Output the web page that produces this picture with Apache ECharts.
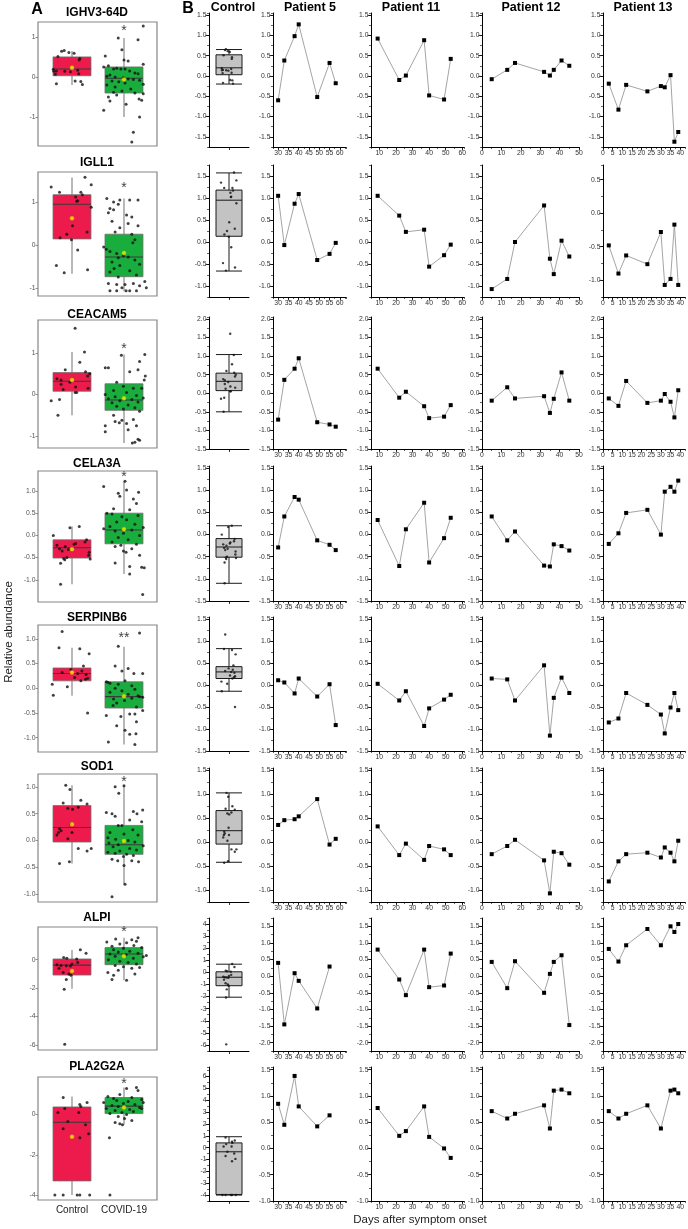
<!DOCTYPE html>
<html>
<head>
<meta charset="utf-8">
<script src="https://cdn.jsdelivr.net/npm/echarts@6.0.0/dist/echarts.min.js"></script>
<style>
  html, body { margin: 0; padding: 0; background: #fff; }
  #chart { width: 688px; height: 1229px; }
</style>
</head>
<body>
<div id="chart"></div>
<script>
// ---- data ----
const genes = ['IGHV3-64D', 'IGLL1', 'CEACAM5', 'CELA3A', 'SERPINB6', 'SOD1', 'ALPI', 'PLA2G2A'];
const stars = ['*', '*', '*', '*', '**', '*', '*', '*'];
const groups = ['Control', 'COVID-19'];
const panelTitles = ['Control', 'Patient 5', 'Patient 11', 'Patient 12', 'Patient 13'];

// panel A boxes: [min, q1, median, q3, max]
const ctrlBox = [
  [-0.2, 0.03, 0.2, 0.5, 0.65], [-0.67, 0.14, 0.95, 1.17, 1.57], [-0.5, 0.08, 0.32, 0.53, 1.03],
  [-1.1, -0.51, -0.28, -0.1, 0.2], [-0.15, 0.15, 0.3, 0.41, 0.82], [-0.43, -0.03, 0.24, 0.65, 1.03],
  [-2.05, -1.08, -0.38, 0.05, 0.68], [-4.0, -3.3, -0.38, 0.38, 0.9]
];
const covidBox = [
  [-1.0, -0.4, -0.03, 0.25, 0.97], [-1.08, -0.74, -0.28, 0.25, 1.08], [-1.17, -0.38, -0.13, 0.26, 0.97],
  [-0.87, -0.19, 0.12, 0.5, 1.22], [-1.14, -0.4, -0.17, 0.13, 0.84], [-0.82, -0.26, -0.08, 0.28, 1.02],
  [-1.45, -0.35, 0.4, 0.85, 1.55], [-0.5, 0.05, 0.42, 0.85, 1.35]
];
const ctrlMean = [0.23, 0.62, 0.35, -0.31, 0.32, 0.3, -0.8, -1.1];
const covidMean = [-0.06, -0.19, -0.09, 0.14, -0.16, -0.01, 0.25, 0.35];
// panel B control boxes (Origin quartiles)
const ctrlBoxB = [
  [-0.2, 0.03, 0.2, 0.52, 0.65], [-0.66, 0.13, 0.95, 1.18, 1.57], [-0.5, 0.07, 0.32, 0.54, 1.04],
  [-1.1, -0.51, -0.28, -0.09, 0.2], [-0.14, 0.15, 0.3, 0.42, 0.83], [-0.42, -0.04, 0.24, 0.66, 1.03],
  [-2.05, -1.1, -0.4, 0.05, 0.68], [-4.0, -3.95, -0.35, 0.4, 0.92]
];

// jittered points [x, value]; x: 1 = Control, 2 = COVID-19
const ctrlPts = [
  [[0.8,0.64],[0.85,0.66],[0.94,0.61],[1.04,0.59],[1.14,0.42],[1.15,0.46],[0.73,0.51],[0.64,0.19],[0.65,0.14],[0.7,0.15],[0.86,0.14],[0.68,0.07],[1.13,0.08],[1.11,0.17],[0.7,-0.17],[1.06,-0.1],[1.17,-0.11],[1.2,-0.19],[0.97,0.13]],
  [[0.6,1.35],[0.76,1.23],[1.17,1.23],[1.2,1.17],[1.25,1.58],[1.37,1.4],[1.07,1.12],[1.09,1.02],[1.11,1.03],[1.37,0.88],[1.01,0.45],[1.29,0.3],[0.9,0.25],[0.77,0.17],[0.99,0.12],[1.11,-0.12],[0.7,-0.48],[0.85,-0.65],[1.3,-0.58]],
  [[1.06,1.6],[1.24,1.03],[1.15,0.78],[0.87,0.6],[1.26,0.55],[1.34,0.5],[1.3,0.45],[0.71,0.38],[0.79,0.35],[0.96,0.3],[0.79,0.25],[1.07,0.18],[0.83,0.12],[1.31,0.15],[1.06,0.05],[1.09,0.05],[0.76,-0.12],[0.6,-0.15],[0.73,-0.5]],
  [[1.14,0.2],[0.96,0.17],[0.64,0.0],[1.28,-0.1],[1.25,-0.15],[1.07,-0.18],[1.04,-0.2],[0.71,-0.22],[0.87,-0.25],[0.76,-0.3],[0.93,-0.32],[0.81,-0.35],[1.33,-0.38],[1.32,-0.45],[0.9,-0.5],[0.84,-0.52],[1.35,-0.53],[0.86,-0.55],[0.78,-0.63],[0.78,-1.1]],
  [[0.81,1.15],[0.75,0.82],[1.15,0.8],[1.33,0.7],[1.22,0.45],[0.98,0.38],[1.19,0.35],[0.81,0.32],[1.11,0.3],[1.27,0.28],[1.05,0.22],[1.3,0.2],[1.26,0.18],[1.17,0.15],[0.62,0.08],[0.91,0.03],[0.64,-0.14],[1.3,-0.5]],
  [[0.88,1.03],[0.96,0.95],[1.17,0.75],[0.83,0.7],[1.29,0.68],[1.12,0.62],[0.92,0.6],[1.01,0.58],[0.98,0.3],[0.76,0.22],[0.79,0.18],[0.74,0.15],[1.0,0.15],[0.71,0.1],[0.92,0.03],[1.12,-0.15],[1.37,-0.15],[1.29,-0.2],[0.95,-0.4],[0.76,-0.43]],
  [[1.16,0.7],[1.27,0.45],[0.84,0.15],[0.9,0.1],[1.09,0.05],[1.0,-0.3],[0.71,-0.35],[0.79,-0.4],[0.89,-0.42],[0.97,-0.45],[0.75,-0.6],[0.83,-0.9],[0.94,-1.0],[0.98,-1.1],[0.89,-1.4],[0.85,-2.08],[0.86,-5.95],[1.11,-0.2]],
  [[0.83,0.85],[1.29,0.6],[1.15,0.5],[1.17,0.4],[0.86,0.3],[0.73,0.1],[0.92,-0.35],[1.26,-0.5],[0.83,-0.7],[1.32,-0.95],[1.15,-1.15],[0.67,-4.0],[0.83,-4.0],[1.1,-4.0],[1.15,-4.0],[1.34,-4.0],[1.13,0.1]]
];
const covidPts = [
  [[2.37,1.27],[1.89,0.97],[2.27,0.93],[1.96,0.68],[1.64,0.52],[2.0,0.42],[2.08,0.4],[2.37,0.32],[1.61,0.25],[1.7,0.28],[1.8,0.2],[1.86,0.22],[1.94,0.2],[2.02,0.2],[2.11,0.15],[2.21,0.1],[2.27,0.08],[1.73,0.05],[1.67,0.02],[1.83,0.0],[1.99,-0.02],[2.08,-0.05],[2.18,-0.06],[2.3,-0.08],[1.77,-0.1],[1.9,-0.12],[2.02,-0.15],[2.37,-0.18],[1.67,-0.2],[1.83,-0.25],[2.13,-0.3],[1.96,-0.35],[1.8,-0.38],[2.21,-0.4],[2.37,-0.42],[1.86,-0.45],[1.7,-0.5],[2.29,-0.55],[2.34,-0.58],[1.73,-0.6],[2.04,-0.68],[1.61,-0.83],[2.3,-1.0],[2.18,-1.38],[2.15,-1.62]],
  [[1.67,1.08],[1.92,1.05],[2.11,1.05],[2.27,1.05],[1.8,1.0],[1.89,0.95],[1.73,0.85],[1.8,0.82],[1.7,0.75],[2.05,0.7],[2.15,0.65],[1.77,0.55],[2.08,0.5],[2.27,0.45],[1.92,0.4],[1.83,0.3],[2.15,0.25],[2.21,0.12],[2.17,0.05],[1.61,-0.05],[1.66,-0.1],[1.73,-0.15],[1.86,-0.2],[1.99,-0.25],[2.08,-0.28],[1.89,-0.3],[2.21,-0.35],[1.77,-0.4],[2.3,-0.45],[1.92,-0.48],[1.81,-0.55],[2.11,-0.6],[1.73,-0.63],[2.24,-0.7],[1.89,-0.75],[2.4,-0.85],[1.7,-0.9],[1.86,-0.92],[2.02,-0.92],[2.18,-0.9],[2.3,-0.95],[1.96,-1.0],[1.73,-1.07],[1.86,-1.07],[2.04,-1.07],[2.11,-1.07],[2.24,-1.07],[2.43,-1.0]],
  [[2.4,0.97],[1.95,0.95],[2.3,0.8],[1.64,0.65],[1.7,0.65],[2.27,0.6],[2.11,0.55],[2.41,0.45],[2.39,0.35],[1.86,0.3],[1.99,0.2],[2.18,0.15],[2.34,0.15],[1.8,0.1],[2.05,0.05],[1.64,0.0],[2.24,-0.02],[1.83,-0.05],[2.37,-0.08],[1.7,-0.1],[2.15,-0.12],[1.92,-0.15],[2.27,-0.18],[1.77,-0.2],[2.08,-0.25],[1.86,-0.28],[2.21,-0.32],[1.99,-0.35],[2.3,-0.4],[1.8,-0.5],[2.18,-0.6],[1.96,-0.62],[1.83,-0.65],[1.91,-0.68],[2.05,-0.7],[1.64,-0.75],[2.08,-0.85],[1.64,-0.9],[2.24,-0.75],[2.27,-1.08],[2.3,-1.1],[2.16,-1.17],[2.21,-1.15]],
  [[2.02,1.22],[1.61,1.1],[2.05,1.02],[2.28,0.97],[1.89,0.95],[1.92,0.88],[2.18,0.82],[2.24,0.72],[1.8,0.6],[2.11,0.58],[1.67,0.5],[1.77,0.48],[2.27,0.45],[1.96,0.42],[2.05,0.35],[1.86,0.3],[2.21,0.25],[1.73,0.2],[2.37,0.18],[1.61,0.15],[2.15,0.12],[1.83,0.1],[1.99,0.05],[2.3,0.0],[1.89,-0.05],[2.08,-0.1],[1.77,-0.15],[2.24,-0.2],[1.94,-0.22],[1.83,-0.25],[2.15,-0.3],[1.99,-0.35],[2.04,-0.38],[2.3,-0.45],[1.83,-0.62],[2.11,-0.7],[2.34,-0.72],[2.39,-0.73],[2.11,-0.87],[2.36,-1.33]],
  [[2.3,1.12],[1.89,0.85],[1.83,0.45],[2.08,0.4],[1.96,0.35],[2.19,0.3],[2.36,0.3],[2.02,0.15],[1.66,0.13],[1.69,0.12],[1.73,0.1],[1.89,0.08],[2.15,0.05],[1.83,0.0],[2.21,-0.02],[1.96,-0.05],[1.73,-0.08],[2.08,-0.12],[2.27,-0.15],[2.36,-0.18],[2.3,-0.17],[2.15,-0.2],[1.8,-0.22],[2.01,-0.25],[1.86,-0.3],[1.79,-0.35],[2.24,-0.38],[2.36,-0.45],[1.66,-0.55],[1.94,-0.57],[2.11,-0.52],[2.21,-0.52],[2.24,-0.68],[1.86,-0.76],[2.02,-0.85],[2.11,-0.93],[2.23,-0.92],[1.7,-1.09],[2.21,-1.14]],
  [[2.0,1.02],[1.83,1.0],[1.9,0.88],[2.36,0.57],[2.18,0.54],[1.66,0.52],[2.25,0.5],[1.77,0.5],[1.83,0.45],[2.11,0.38],[2.34,0.35],[1.89,0.28],[1.96,0.28],[2.17,0.2],[1.73,0.15],[2.0,0.12],[2.27,0.1],[1.69,0.05],[1.84,0.02],[2.08,0.0],[2.21,-0.03],[1.71,-0.05],[1.89,-0.08],[2.37,-0.1],[1.79,-0.12],[2.11,-0.15],[2.24,-0.18],[1.92,-0.2],[1.69,-0.22],[1.83,-0.24],[2.05,-0.26],[2.18,-0.28],[1.99,-0.3],[1.77,-0.35],[1.88,-0.38],[2.28,-0.4],[2.15,-0.38],[2.0,-0.47],[2.02,-0.82],[1.77,-1.05]],
  [[2.27,1.55],[1.84,1.45],[2.15,1.4],[2.24,1.3],[1.67,1.25],[2.05,1.2],[1.92,1.1],[2.19,1.0],[1.77,0.95],[2.34,0.85],[1.99,0.8],[1.8,0.7],[2.11,0.6],[1.89,0.55],[2.27,0.45],[1.73,0.4],[2.04,0.35],[1.83,0.25],[2.37,0.2],[2.18,0.1],[1.7,0.0],[1.92,-0.1],[2.08,-0.2],[2.24,-0.3],[1.83,-0.4],[1.99,-0.5],[2.3,-0.55],[2.15,-0.6],[1.69,-0.9],[2.21,-1.0],[1.8,-1.1],[1.77,-1.4],[2.05,-1.45],[1.89,-0.75],[2.43,0.3]],
  [[2.24,1.35],[2.05,1.3],[2.27,1.2],[1.92,1.0],[1.69,0.9],[2.15,0.85],[1.8,0.8],[2.34,0.75],[1.86,0.7],[2.08,0.65],[1.61,0.6],[1.99,0.55],[2.21,0.5],[1.77,0.45],[1.89,0.4],[2.3,0.35],[1.66,0.3],[2.11,0.25],[1.83,0.2],[2.18,0.15],[1.96,0.1],[1.73,0.05],[2.05,0.0],[1.89,-0.1],[2.01,-0.2],[2.15,-0.3],[1.83,-0.4],[1.92,-0.45],[1.97,-0.5],[1.72,-1.15],[1.73,-4.0],[2.34,0.3],[2.37,0.6]]
];

// panel B time courses (days after symptom onset)
const p5Days = [30, 33, 38, 40, 49, 55, 58];
const p5Vals = [
  [-0.6, 0.38, 0.98, 1.27, -0.52, 0.32, -0.18],
  [1.05, -0.07, 0.87, 1.09, -0.41, -0.27, -0.02],
  [-0.71, 0.36, 0.66, 0.94, -0.78, -0.84, -0.9],
  [-0.29, 0.41, 0.85, 0.79, -0.13, -0.23, -0.35],
  [0.11, 0.06, -0.19, 0.15, -0.26, 0.02, -0.91],
  [0.36, 0.46, 0.48, 0.54, 0.9, -0.05, 0.07],
  [0.4, -1.45, 0.09, -0.14, -0.97, 0.29, null],
  [0.85, 0.45, 1.38, 0.8, 0.42, 0.63, null]
];
const p11Days = [9, 22, 26, 37, 40, 49, 53];
const p11Vals = [
  [0.92, -0.1, 0.01, 0.88, -0.48, -0.58, 0.42],
  [1.05, 0.6, 0.23, 0.28, -0.56, -0.3, -0.06],
  [0.66, -0.12, 0.04, -0.35, -0.67, -0.63, -0.32],
  [0.33, -0.71, 0.12, 0.72, -0.63, -0.08, 0.38],
  [0.03, -0.35, -0.14, -0.93, -0.53, -0.33, -0.22],
  [0.33, -0.27, -0.03, -0.37, -0.08, -0.15, -0.27],
  [0.8, -0.1, -0.57, 0.8, -0.33, -0.28, 0.68],
  [0.77, 0.24, 0.33, 0.8, 0.22, 0.0, -0.18]
];
const p12Days = [5, 13, 17, 32, 35, 37, 41, 45];
const p12Vals = [
  [-0.08, 0.15, 0.32, 0.1, 0.01, 0.15, 0.38, 0.25],
  [-1.07, -0.84, 0.0, 0.83, -0.38, -0.73, 0.03, -0.33],
  [-0.2, 0.16, -0.14, -0.08, -0.53, -0.15, 0.56, -0.2],
  [0.41, -0.13, 0.07, -0.7, -0.72, -0.22, -0.26, -0.36],
  [0.15, 0.13, -0.35, 0.45, -1.15, -0.29, 0.17, -0.18],
  [-0.25, -0.08, 0.05, -0.38, -1.07, -0.2, -0.23, -0.47],
  [0.43, -0.36, 0.45, -0.5, 0.07, 0.43, 0.63, -1.47],
  [0.71, 0.57, 0.66, 0.82, 0.38, 1.1, 1.12, 1.05]
];
const p13Days = [3, 8, 12, 23, 30, 32, 35, 37, 39];
const p13Vals = [
  [-0.19, -0.83, -0.22, -0.38, -0.25, -0.28, 0.02, -1.62, -1.38],
  [-0.48, -0.9, -0.63, -0.76, -0.28, -1.07, -0.98, -0.17, -1.07],
  [-0.14, -0.34, 0.33, -0.26, -0.2, -0.02, -0.23, -0.65, 0.08],
  [-0.21, 0.03, 0.49, 0.56, 0.0, 0.97, 1.08, 0.97, 1.22],
  [-0.85, -0.76, -0.18, -0.45, -0.67, -1.1, -0.51, -0.18, -0.57],
  [-0.82, -0.4, -0.25, -0.22, -0.32, -0.11, -0.22, -0.4, 0.03],
  [0.82, 0.44, 0.93, 1.42, 0.93, null, 1.5, 1.33, 1.57],
  [0.71, 0.57, 0.66, 0.82, 0.38, null, 1.1, 1.12, 1.05]
];

// axis ranges and tick labels
const aYRange = [[-1.72, 1.37], [-1.19, 1.7], [-1.29, 1.8], [-1.5, 1.45], [-1.29, 1.28], [-1.15, 1.24], [-6.35, 2.3], [-4.25, 1.87]];
const aYTicks = [[-1, 0, 1], [-1, 0, 1], [-1, 0, 1], [-1, -0.5, 0, 0.5, 1], [-1, -0.5, 0, 0.5, 1], [-1, -0.5, 0, 0.5, 1], [-6, -4, -2, 0], [-4, -2, 0]];
const ctrlYRange = [[-1.75, 1.55], [-1.25, 1.75], [-1.5, 2.05], [-1.5, 1.55], [-1.5, 1.55], [-1.25, 1.55], [-6.5, 4.5], [-4.5, 6.8]];
const patYRange = [[-1.75, 1.55], [-1.25, 1.75], [-1.5, 2.05], [-1.5, 1.55], [-1.5, 1.55], [-1.25, 1.55], [-2.25, 1.75], [-1.0, 1.55]];
const p13YRange = [[-1.75, 1.55], [-1.25, 0.72], [-1.5, 2.05], [-1.5, 1.55], [-1.5, 1.55], [-1.25, 1.55], [-2.25, 1.75], [-1.0, 1.55]];
const ctrlYTicks = [
  [-1.5, -1, -0.5, 0, 0.5, 1, 1.5], [-1, -0.5, 0, 0.5, 1, 1.5], [-1.5, -1, -0.5, 0, 0.5, 1, 1.5, 2],
  [-1.5, -1, -0.5, 0, 0.5, 1, 1.5], [-1.5, -1, -0.5, 0, 0.5, 1, 1.5], [-1, -0.5, 0, 0.5, 1, 1.5],
  [-6, -5, -4, -3, -2, -1, 0, 1, 2, 3, 4], [-4, -3, -2, -1, 0, 1, 2, 3, 4, 5, 6]
];
const patYTicks = [
  [-1.5, -1, -0.5, 0, 0.5, 1, 1.5], [-1, -0.5, 0, 0.5, 1, 1.5], [-1.5, -1, -0.5, 0, 0.5, 1, 1.5, 2],
  [-1.5, -1, -0.5, 0, 0.5, 1, 1.5], [-1.5, -1, -0.5, 0, 0.5, 1, 1.5], [-1, -0.5, 0, 0.5, 1, 1.5],
  [-2, -1.5, -1, -0.5, 0, 0.5, 1, 1.5], [-1, -0.5, 0, 0.5, 1, 1.5]
];
const p13YTicks = patYTicks.map((t, i) => i === 1 ? [-1, -0.5, 0, 0.5] : t);
const patXRange = [[27.5, 63], [5, 61], [0, 50], [0, 42.5]];
const patXTicks = [[30, 35, 40, 45, 50, 55, 60], [10, 20, 30, 40, 50, 60], [0, 10, 20, 30, 40, 50], [0, 5, 10, 15, 20, 25, 30, 35, 40]];
const patXMinor = [2.5, 5, 5, 2.5];

// ---- layout ----
const FONT = 'Liberation Sans, Arial, Helvetica, sans-serif';
const RED = '#ec1b4b', GREEN = '#19ad3e';
const aTop = [22, 172, 320, 471, 625, 774, 927, 1077];
const aBottom = [146, 296, 448, 602, 752, 902, 1050, 1200];
const bTop = [13, 165, 317, 466, 617, 768, 918, 1067];
const bBottom = [147, 297, 449, 601, 751, 902, 1051, 1201];
const bCols = [{ left: 209, width: 40 }, { left: 273, width: 73 }, { left: 371, width: 93 }, { left: 482, width: 97 }, { left: 603, width: 82 }];
const aTitleY = [13, 163, 315, 464, 618, 767, 918, 1067];
const aStarY = [31, 188, 349, 477, 638, 782, 932, 1084];
const titleX = [233, 310, 411, 531, 643];

const option = {
  animation: false,
  backgroundColor: '#fff',
  grid: [], xAxis: [], yAxis: [], series: [],
  graphic: { elements: [] }
};

function addText(x, y, text, size, weight, fill, rotation) {
  option.graphic.elements.push({
    type: 'text', x: x, y: y, rotation: rotation || 0, silent: true,
    style: {
      text: text, fontSize: size, fontWeight: weight || 'normal', fontFamily: FONT, fill: fill || '#000',
      align: 'center', verticalAlign: 'middle', textAlign: 'center', textVerticalAlign: 'middle'
    }
  });
}

function addGrid(left, top, width, height, extra) {
  option.grid.push(Object.assign({ left: left, top: top, width: width, height: height }, extra || {}));
  return option.grid.length - 1;
}

const tickLine = { color: '#000', width: 0.8 };

function addValueY(g, range, ticks, decimals, minorStep) {
  option.yAxis.push({
    type: 'value', gridIndex: g, position: 'left', min: range[0], max: range[1],
    axisLine: { show: true, onZero: false, lineStyle: { color: '#000', width: 1 } },
    axisTick: { show: true, length: 3.5, customValues: ticks, lineStyle: tickLine },
    axisLabel: { show: true, customValues: ticks, fontSize: 6.8, color: '#333', margin: 2.5, fontFamily: FONT,
      formatter: v => Number(v).toFixed(decimals) },
    splitLine: { show: false }
  });
  const idx = option.yAxis.length - 1;
  option.yAxis.push({
    type: 'value', gridIndex: g, position: 'left', min: range[0], max: range[1], interval: minorStep,
    axisLine: { show: false, onZero: false }, axisTick: { show: true, length: 2, lineStyle: { color: '#000', width: 0.6 } },
    axisLabel: { show: false }, splitLine: { show: false }
  });
  return idx;
}

function renderBox(params, api) {
  const x = api.value(0);
  const pMin = api.coord([x, api.value(1)]);
  const pQ1 = api.coord([x, api.value(2)]);
  const pMed = api.coord([x, api.value(3)]);
  const pQ3 = api.coord([x, api.value(4)]);
  const pMax = api.coord([x, api.value(5)]);
  const hw = api.size([0.73, 0])[0] / 2;
  const whisker = { stroke: '#9a9a9a', lineWidth: 1.4 };
  return {
    type: 'group',
    children: [
      { type: 'line', shape: { x1: pMin[0], y1: pMin[1], x2: pQ1[0], y2: pQ1[1] }, style: whisker },
      { type: 'line', shape: { x1: pQ3[0], y1: pQ3[1], x2: pMax[0], y2: pMax[1] }, style: whisker },
      { type: 'rect', shape: { x: pQ3[0] - hw, y: pQ3[1], width: hw * 2, height: pQ1[1] - pQ3[1] },
        style: { fill: api.visual('color'), stroke: '#6d6d6d', lineWidth: 0.8 } },
      { type: 'line', shape: { x1: pMed[0] - hw, y1: pMed[1], x2: pMed[0] + hw, y2: pMed[1] },
        style: { stroke: '#3a3a3a', lineWidth: 1.1 } }
    ]
  };
}

const patDays = [p5Days, p11Days, p12Days, p13Days];
const patVals = [p5Vals, p11Vals, p12Vals, p13Vals];

for (let r = 0; r < 8; r++) {
  // ---------- panel A ----------
  const gA = addGrid(38, aTop[r], 119, aBottom[r] - aTop[r],
    { show: true, borderColor: '#858585', borderWidth: 1.2, backgroundColor: '#fff' });
  option.xAxis.push({
    type: 'value', gridIndex: gA, min: 0.346, max: 2.635, position: 'bottom',
    axisLine: { show: false, onZero: false }, axisTick: { show: false }, splitLine: { show: false },
    axisLabel: r === 7
      ? { show: true, customValues: [1, 2], formatter: v => groups[Math.round(v) - 1], fontSize: 10, color: '#222', margin: 5, fontFamily: FONT }
      : { show: false }
  });
  const xA = option.xAxis.length - 1;
  option.yAxis.push({
    type: 'value', gridIndex: gA, min: aYRange[r][0], max: aYRange[r][1],
    axisLine: { show: false, onZero: false },
    axisTick: { show: true, length: 2.5, customValues: aYTicks[r], lineStyle: { color: '#777', width: 0.8 } },
    axisLabel: { show: true, customValues: aYTicks[r], fontSize: 6.8, color: '#555', margin: 2.5, fontFamily: FONT,
      formatter: v => Number(v).toFixed(r >= 3 && r <= 5 ? 1 : 0) },
    splitLine: { show: false }
  });
  const yA = option.yAxis.length - 1;
  option.series.push({
    type: 'custom', xAxisIndex: xA, yAxisIndex: yA, renderItem: renderBox, z: 2, silent: true,
    encode: { x: 0, y: [1, 2, 3, 4, 5] },
    data: [
      { value: [1].concat(ctrlBox[r]), itemStyle: { color: RED } },
      { value: [2].concat(covidBox[r]), itemStyle: { color: GREEN } }
    ]
  });
  option.series.push({
    type: 'scatter', xAxisIndex: xA, yAxisIndex: yA, z: 3, silent: true,
    data: ctrlPts[r].concat(covidPts[r]), symbolSize: 3, itemStyle: { color: '#111' }
  });
  option.series.push({
    type: 'scatter', xAxisIndex: xA, yAxisIndex: yA, z: 4, silent: true,
    data: [[1, ctrlMean[r]], [2, covidMean[r]]], symbolSize: 4,
    itemStyle: { color: '#f4f000', borderColor: '#c9c400', borderWidth: 0.5 }
  });
  addText(97, aTitleY[r], genes[r], 12, 'bold');
  addText(124, aStarY[r], stars[r], 14, 'normal', '#444');

  // ---------- panel B ----------
  for (let c = 0; c < 5; c++) {
    const col = bCols[c];
    const g = addGrid(col.left, bTop[r], col.width, bBottom[r] - bTop[r]);
    if (c === 0) {
      option.xAxis.push({
        type: 'category', gridIndex: g, data: [''], position: 'bottom',
        axisLine: { show: true, onZero: false, lineStyle: { color: '#000', width: 1 } },
        axisTick: { show: true, alignWithLabel: true, length: 3, lineStyle: tickLine },
        axisLabel: { show: false }, splitLine: { show: false }
      });
      const xCat = option.xAxis.length - 1;
      option.xAxis.push({ type: 'value', gridIndex: g, min: 0, max: 2, show: false });
      const xJit = option.xAxis.length - 1;
      const y = addValueY(g, ctrlYRange[r], ctrlYTicks[r], r >= 6 ? 0 : 1, r >= 6 ? 0.5 : 0.25);
      option.series.push({
        type: 'boxplot', xAxisIndex: xCat, yAxisIndex: y, silent: true, z: 2,
        data: [ctrlBoxB[r]], boxWidth: [26, 26],
        itemStyle: { color: '#c3c3c3', borderColor: '#1a1a1a', borderWidth: 1 }
      });
      option.series.push({
        type: 'scatter', xAxisIndex: xJit, yAxisIndex: y, silent: true, z: 3,
        data: ctrlPts[r], symbolSize: 2.4, itemStyle: { color: '#111' }
      });
    } else {
      const p = c - 1;
      option.xAxis.push({
        type: 'value', gridIndex: g, min: patXRange[p][0], max: patXRange[p][1], position: 'bottom',
        axisLine: { show: true, onZero: false, lineStyle: { color: '#000', width: 1 } },
        axisTick: { show: true, length: 3.5, customValues: patXTicks[p], lineStyle: tickLine },
        axisLabel: { show: true, customValues: patXTicks[p], fontSize: 6.8, color: '#333', margin: 3, fontFamily: FONT },
        splitLine: { show: false }
      });
      const x = option.xAxis.length - 1;
      option.xAxis.push({
        type: 'value', gridIndex: g, min: patXRange[p][0], max: patXRange[p][1], interval: patXMinor[p], position: 'bottom',
        axisLine: { show: false, onZero: false }, axisTick: { show: true, length: 2, lineStyle: { color: '#000', width: 0.6 } },
        axisLabel: { show: false }, splitLine: { show: false }
      });
      const yr = p === 3 ? p13YRange[r] : patYRange[r];
      const yt = p === 3 ? p13YTicks[r] : patYTicks[r];
      const y = addValueY(g, yr, yt, 1, 0.25);
      const pts = patDays[p].map((d, i) => [d, patVals[p][r][i]]).filter(q => q[1] !== null);
      option.series.push({
        type: 'line', xAxisIndex: x, yAxisIndex: y, silent: true, data: pts,
        symbol: 'rect', symbolSize: 4, showAllSymbol: true,
        itemStyle: { color: '#000' }, lineStyle: { color: '#9a9a9a', width: 0.9 }
      });
    }
  }
}

// panel titles and labels
for (let c = 0; c < 5; c++) addText(titleX[c], 8, panelTitles[c], 12.5, 'bold');
addText(37, 10, 'A', 16, 'bold');
addText(188, 9, 'B', 16, 'bold');
addText(9, 632, 'Relative abundance', 11.5, 'normal', '#222', Math.PI / 2);
addText(420, 1220, 'Days after symptom onset', 11.5, 'normal', '#222');

const chart = echarts.init(document.getElementById('chart'));
chart.setOption(option);
</script>
</body>
</html>
